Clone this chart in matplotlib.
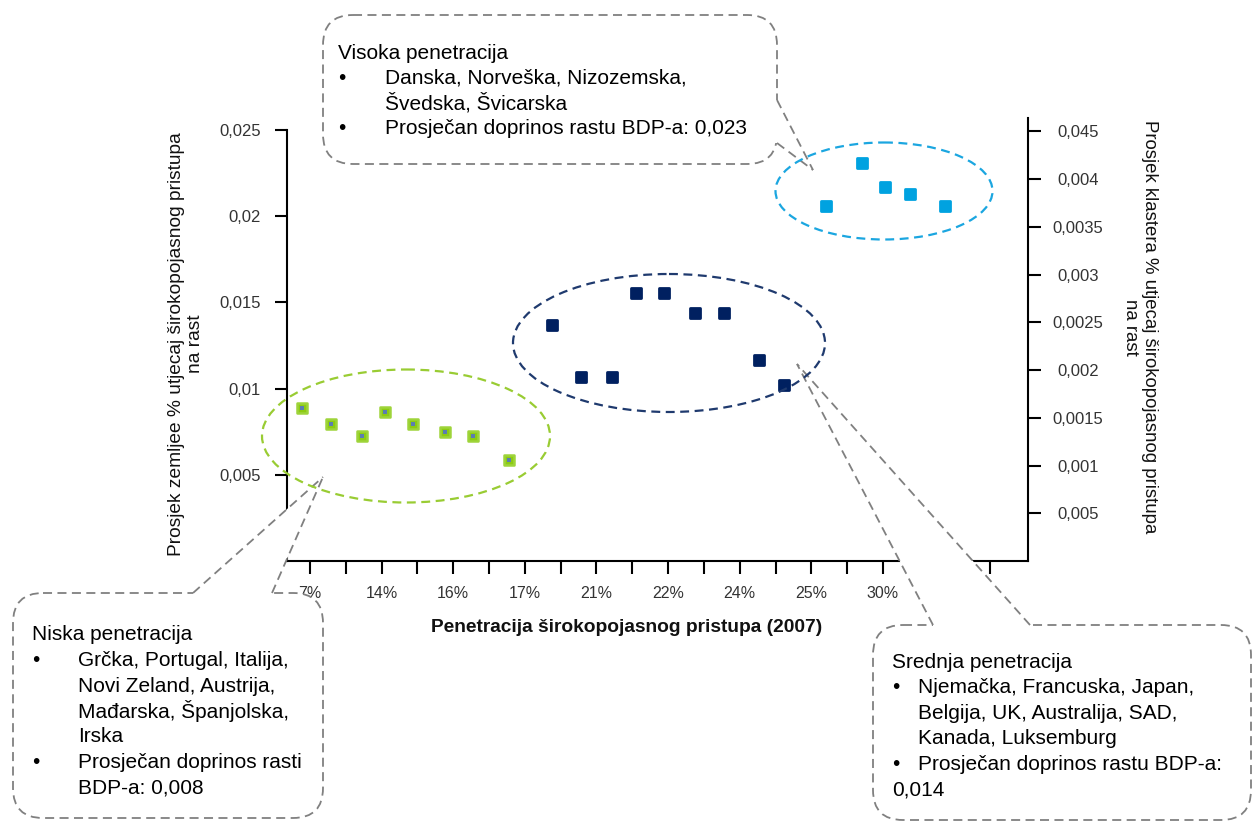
import matplotlib.pyplot as plt
from matplotlib.markers import MarkerStyle
from matplotlib.patches import Ellipse, FancyBboxPatch, Polygon

plt.rcParams['font.family'] = ['Liberation Sans', 'DejaVu Sans']

# x os: pozicije kvacica (indeks) i oznake penetracije
x_tick_pos = list(range(20))
x_tick_text = ['7%', '14%', '16%', '17%', '21%', '22%', '24%', '25%', '30%']

# niska penetracija (zelena)
low_x = [-0.21, 0.58, 1.46, 2.11, 2.89, 3.78, 4.56, 5.56]
low_y = [0.00885, 0.00793, 0.00723, 0.00864, 0.00793, 0.00750, 0.00723, 0.00584]

# srednja penetracija (tamnoplava)
mid_x = [6.77, 7.58, 8.44, 9.10, 9.89, 10.76, 11.55, 12.55, 13.24]
mid_y = [0.01372, 0.01069, 0.01069, 0.01555, 0.01555, 0.01439, 0.01439, 0.01165, 0.01019]

# visoka penetracija (svijetloplava)
high_x = [14.42, 15.42, 16.07, 16.75, 17.73]
high_y = [0.0206, 0.0231, 0.0217, 0.0213, 0.0206]

left_ticks = [0.005, 0.01, 0.015, 0.02, 0.025]
left_tick_text = ['0,005', '0,01', '0,015', '0,02', '0,025']
right_ticks = [0.0005, 0.001, 0.0015, 0.002, 0.0025, 0.003, 0.0035, 0.004, 0.0045]
right_tick_text = ['0,005', '0,001', '0,0015', '0,002', '0,0025', '0,003', '0,0035', '0,004', '0,045']

x_label = 'Penetracija širokopojasnog pristupa (2007)'
left_label = 'Prosjek zemljee % utjecaj širokopojasnog pristupa\nna rast'
right_label = 'Prosjek klastera % utjecaj širokopojasnog pristupa\nna rast'

# tekstovi oblacica: (grafička oznaka, uvlaka, tekst)
high_title = 'Visoka penetracija'
high_lines = [(True, True, 'Danska, Norveška, Nizozemska,'),
              (False, True, 'Švedska, Švicarska'),
              (True, True, 'Prosječan doprinos rastu BDP-a: 0,023')]
low_title = 'Niska penetracija'
low_lines = [(True, True, 'Grčka, Portugal, Italija,'),
             (False, True, 'Novi Zeland, Austrija,'),
             (False, True, 'Mađarska, Španjolska,'),
             (False, True, 'Irska'),
             (True, True, 'Prosječan doprinos rasti'),
             (False, True, 'BDP-a: 0,008')]
mid_title = 'Srednja penetracija'
mid_lines = [(True, True, 'Njemačka, Francuska, Japan,'),
             (False, True, 'Belgija, UK, Australija, SAD,'),
             (False, True, 'Kanada, Luksemburg'),
             (True, True, 'Prosječan doprinos rastu BDP-a:'),
             (False, False, '0,014')]

W, H = 1255, 823
fig = plt.figure(figsize=(W / 100, H / 100), dpi=100)

ax = fig.add_axes([287 / W, 1 - 561 / H, (1028 - 287) / W, (561 - 118) / H])
ax2 = ax.twinx()

green = '#8CCB12'
navy = '#002060'
light = '#00A2E0'
sq = MarkerStyle('s', joinstyle='round')
ax.plot(low_x, low_y, ls='none', marker=sq, ms=7.5, mew=1.8, mfc=green, mec='#9ED43A')
ax.plot(low_x, low_y, ls='none', marker='s', ms=2.4, mew=0, mfc='#5B7DB1')
ax.plot(mid_x, mid_y, ls='none', marker=sq, ms=7, mew=2, mfc=navy, mec=navy)
ax.plot(high_x, high_y, ls='none', marker=sq, ms=7, mew=2, mfc=light, mec=light)

ax.set_xlim(-0.64, 20.05)
ax.set_ylim(0, 0.0257)
ax2.set_ylim(0, 0.00464)

ax.set_xticks(x_tick_pos)
xt = [''] * len(x_tick_pos)
for i, t in enumerate(x_tick_text):
    xt[2 * i] = t
ax.set_xticklabels(xt, fontsize=11.5, color='#333333')
ax.set_yticks(left_ticks)
ax.set_yticklabels(left_tick_text, fontsize=12, color='#333333')
ax2.set_yticks(right_ticks)
ax2.set_yticklabels(right_tick_text, fontsize=12, color='#333333')
plt.setp(ax2.get_yticklabels(), ha='center')

ax.tick_params(axis='x', direction='out', length=9, width=1.5, pad=9)
ax.tick_params(axis='y', direction='out', length=9, width=1.5, pad=10)
ax2.tick_params(axis='y', direction='out', length=9, width=1.5, pad=27)

for s in ['top', 'right']:
    ax.spines[s].set_visible(False)
for s in ['top', 'left', 'bottom']:
    ax2.spines[s].set_visible(False)
ax.spines['left'].set_bounds(0, 0.025)
ax.spines['left'].set_linewidth(1.5)
ax.spines['bottom'].set_linewidth(1.5)
ax2.spines['right'].set_linewidth(1.5)

# sloj za oblacice, elipse i natpise osi (koordinate u pikselima)
ov = fig.add_axes([0, 0, 1, 1], zorder=10)
ov.set_xlim(0, W)
ov.set_ylim(H, 0)
ov.axis('off')
ov.patch.set_alpha(0)

fig.text(186 / W, 1 - 344 / H, left_label, rotation=90, ha='center', va='center',
         fontsize=13.8, color='#111111', multialignment='center')
fig.text(1140 / W, 1 - 327 / H, right_label, rotation=270, ha='center', va='center',
         fontsize=13.4, color='#111111', multialignment='center')
fig.text(627 / W, 1 - 627 / H, x_label, ha='center', va='center', fontsize=13.8,
         fontweight='bold', color='#111111')

gray = '#808080'
dash = (0, (5, 3))
fs = 15


def callout(box, base, tip, side, title, lines, tx, bx, ix, ty, step):
    x0, y0, x1, y1 = box
    ov.add_patch(FancyBboxPatch((x0, y0), x1 - x0, y1 - y0,
                                boxstyle='round,pad=0,rounding_size=30',
                                fc='white', ec=gray, lw=1.3, ls=dash, zorder=2))
    (ax0, ay0), (ax1, ay1) = base
    if side == 'top':
        pts = [(ax0, ay0 + 4), (ax0, ay0), tip, (ax1, ay1), (ax1, ay1 + 4)]
    else:
        pts = [(ax0 - 4, ay0), (ax0, ay0), tip, (ax1, ay1), (ax1 - 4, ay1)]
    ov.add_patch(Polygon(pts, closed=True, fc='white', ec='none', zorder=3))
    for p in base:
        ov.plot([p[0], tip[0]], [p[1], tip[1]], color=gray, lw=1.3, ls=dash, zorder=4)
    ov.text(tx, ty, title, fontsize=fs, va='center', ha='left', zorder=5)
    for i, (bullet, indent, text) in enumerate(lines):
        y = ty + step * (i + 1)
        if bullet:
            ov.text(bx, y, '•', fontsize=fs, va='center', ha='left', zorder=5)
        ov.text(ix if indent else tx, y, text, fontsize=fs, va='center', ha='left', zorder=5)


callout((323, 15, 777, 164), [(777, 100), (777, 143)], (813, 170), 'right',
        high_title, high_lines, 338, 338, 385, 53, 25)
callout((13, 593, 323, 818), [(193, 593), (272, 593)], (323, 477), 'top',
        low_title, low_lines, 32, 32, 78, 635, 25.5)
callout((873, 625, 1251, 820), [(933, 625), (1030, 625)], (797, 364), 'top',
        mid_title, mid_lines, 892, 892, 918, 662, 25.6)

edash = (0, (4, 2.5))
ov.add_patch(Ellipse((406, 436), 288, 133, fill=False, ec='#99CC33', lw=1.6, ls=edash, zorder=6))
ov.add_patch(Ellipse((669, 343), 312, 138, fill=False, ec='#1F3A6E', lw=1.6, ls=edash, zorder=6))
ov.add_patch(Ellipse((884, 191), 217, 97, fill=False, ec='#1BA6E0', lw=1.6, ls=edash, zorder=6))

fig.savefig('out.png', dpi=100)
